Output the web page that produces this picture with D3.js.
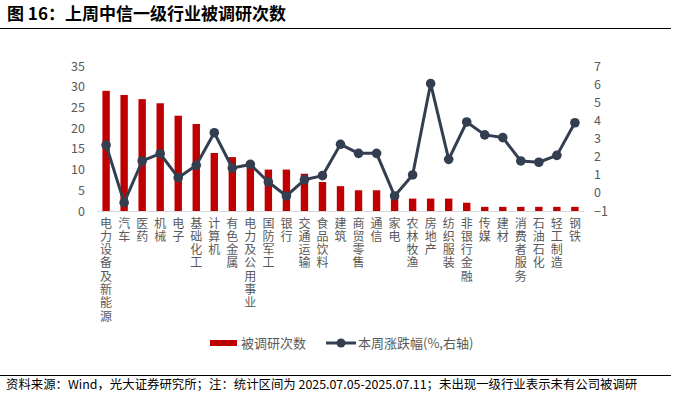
<!DOCTYPE html>
<html>
<head>
<meta charset="utf-8">
<script src="https://cdn.jsdelivr.net/npm/d3@7"></script>
<style>
    body { margin: 0; background: #fff; }
    svg { font-family: "Noto Sans CJK SC", "Noto Sans", sans-serif; }
</style>
</head>
<body>
<svg id="chart" width="679" height="399"></svg>
<script>
const categories = ['电力设备及新能源', '汽车', '医药', '机械', '电子', '基础化工', '计算机', '有色金属',
    '电力及公用事业', '国防军工', '银行', '交通运输', '食品饮料', '建筑', '商贸零售', '通信', '家电',
    '农林牧渔', '房地产', '纺织服装', '非银行金融', '传媒', '建材', '消费者服务', '石油石化', '轻工制造', '钢铁'];
const surveyCounts = [29, 28, 27, 26, 23, 21, 14, 13, 12, 10, 10, 9, 7, 6, 5, 5, 4, 3, 3, 3, 2, 1, 1, 1, 1, 1, 1];
const weeklyChange = [2.64, -0.54, 1.76, 2.16, 0.84, 1.52, 3.32, 1.37, 1.57, 0.6, -0.17, 0.72, 0.95, 2.68, 2.18,
    2.18, -0.17, 0.99, 6.03, 1.85, 3.91, 3.2, 3.05, 1.76, 1.69, 2.07, 3.87];
const leftTicks = [0, 5, 10, 15, 20, 25, 30, 35];
const rightTicks = [-1, 0, 1, 2, 3, 4, 5, 6, 7];

const svg = d3.select('#chart');
const margin = {top: 66, left: 97, right: 95, bottom: 188};
const width = 679 - margin.left - margin.right;
const height = 399 - margin.top - margin.bottom;
const g = svg.append('g').attr('transform', `translate(${margin.left},${margin.top})`);

// title
svg.append('text')
    .attr('x', 7).attr('y', 20)
    .attr('font-size', '17px').attr('font-weight', 'bold').attr('fill', '#000')
    .text('图 16：上周中信一级行业被调研次数');
svg.append('line').attr('x1', 0).attr('x2', 671).attr('y1', 28.5).attr('y2', 28.5)
    .attr('stroke', '#000').attr('stroke-width', 1);

const x = d3.scaleBand().domain(categories).range([0, width]).paddingInner(0.59).paddingOuter(0.3);
const yL = d3.scaleLinear().domain([0, 35]).range([height, 0]);
const yR = d3.scaleLinear().domain([-1, 7]).range([height, 0]);

// left axis
const leftAxis = g.append('g')
    .call(d3.axisLeft(yL).tickValues(leftTicks).tickSize(0).tickPadding(12));
leftAxis.select('.domain').remove();
leftAxis.selectAll('text').attr('font-size', '12.5px').attr('fill', '#595959')
    .attr('font-family', '"Noto Sans CJK SC", sans-serif');

// right axis
const rightAxis = g.append('g')
    .attr('transform', `translate(${width},0)`)
    .call(d3.axisRight(yR).tickValues(rightTicks).tickSize(0).tickFormat(d3.format('d')).tickPadding(10));
rightAxis.select('.domain').remove();
rightAxis.selectAll('text').attr('font-size', '12.5px').attr('fill', '#595959')
    .attr('font-family', '"Noto Sans CJK SC", sans-serif');

// bars
g.selectAll('.bar')
    .data(categories)
    .enter().append('rect')
    .attr('class', 'bar')
    .attr('x', d => x(d))
    .attr('y', (d, i) => yL(surveyCounts[i]))
    .attr('width', x.bandwidth())
    .attr('height', (d, i) => height - yL(surveyCounts[i]))
    .attr('fill', '#C00000');

// baseline
g.append('line').attr('x1', 0).attr('x2', width).attr('y1', height + 0.5).attr('y2', height + 0.5)
    .attr('stroke', '#d9d9d9').attr('stroke-width', 1);

// x labels, stacked vertically
g.selectAll('.xlabel')
    .data(categories)
    .enter().append('text')
    .attr('class', 'xlabel')
    .attr('x', d => x(d) + x.bandwidth() / 2)
    .attr('y', height + 6)
    .attr('font-size', '12px')
    .attr('fill', '#595959')
    .style('writing-mode', 'vertical-rl')
    .style('text-orientation', 'upright')
    .style('letter-spacing', '1.3px')
    .text(d => d);

// line
const line = d3.line()
    .x((d, i) => x(categories[i]) + x.bandwidth() / 2)
    .y(d => yR(d));
g.append('path')
    .datum(weeklyChange)
    .attr('fill', 'none')
    .attr('stroke', '#333F50')
    .attr('stroke-width', 3)
    .attr('stroke-linejoin', 'round')
    .attr('d', line);
g.selectAll('.dot')
    .data(weeklyChange)
    .enter().append('circle')
    .attr('class', 'dot')
    .attr('cx', (d, i) => x(categories[i]) + x.bandwidth() / 2)
    .attr('cy', d => yR(d))
    .attr('r', 4.8)
    .attr('fill', '#333F50');

// legend
const legend = svg.append('g').attr('transform', 'translate(210,343)');
legend.append('rect').attr('x', 0).attr('y', -3).attr('width', 27).attr('height', 6).attr('fill', '#C00000');
legend.append('text').attr('x', 31).attr('y', 5).attr('font-size', '13px').attr('fill', '#595959').text('被调研次数');
legend.append('line').attr('x1', 116).attr('x2', 146).attr('y1', 0).attr('y2', 0)
    .attr('stroke', '#333F50').attr('stroke-width', 3);
legend.append('circle').attr('cx', 131).attr('cy', 0).attr('r', 4.5).attr('fill', '#333F50');
legend.append('text').attr('x', 148).attr('y', 5).attr('font-size', '13px').attr('fill', '#595959').text('本周涨跌幅(%,右轴)');

// footer
svg.append('line').attr('x1', 0).attr('x2', 671).attr('y1', 375.5).attr('y2', 375.5)
    .attr('stroke', '#000').attr('stroke-width', 1);
svg.append('text')
    .attr('x', 6).attr('y', 389)
    .attr('font-size', '12.4px').attr('fill', '#000')
    .text('资料来源：Wind，光大证券研究所；注：统计区间为 2025.07.05-2025.07.11；未出现一级行业表示未有公司被调研');
</script>
</body>
</html>
